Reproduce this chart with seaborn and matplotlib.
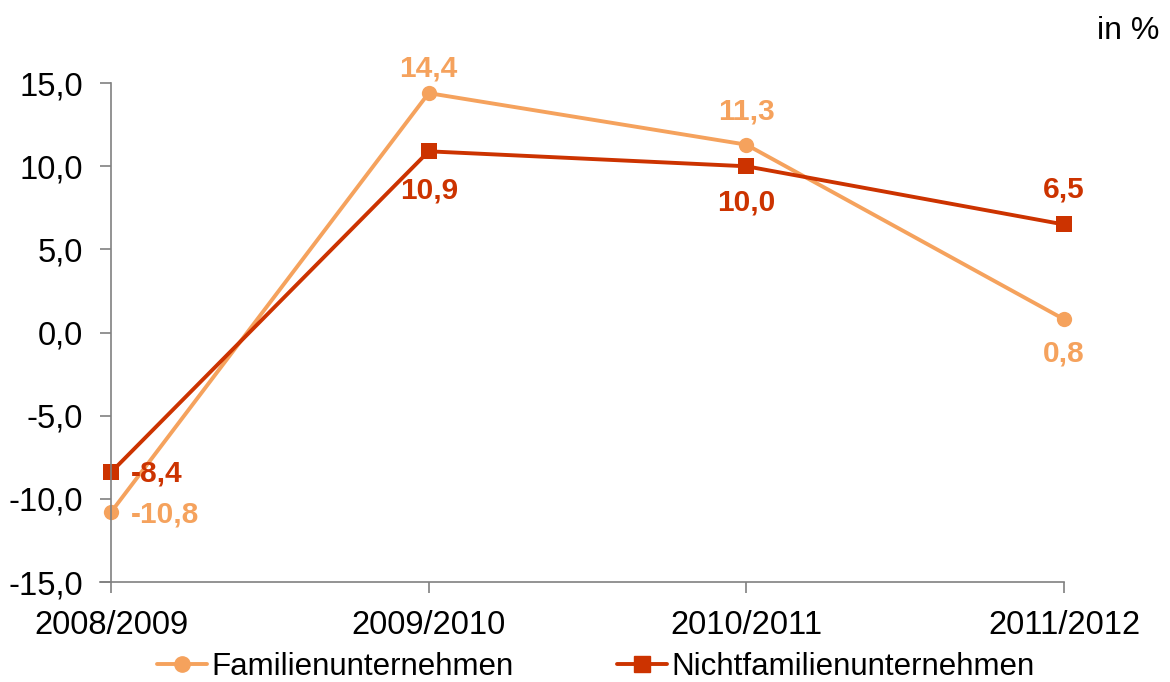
import pandas as pd
import matplotlib.pyplot as plt
import seaborn as sns

# values (in %)
years = ['2008/2009', '2009/2010', '2010/2011', '2011/2012']
familien = [-10.8, 14.4, 11.3, 0.8]
nichtfamilien = [-8.4, 10.9, 10.0, 6.5]
series_names = ['Familienunternehmen', 'Nichtfamilienunternehmen']
colors = ['#F5A25D', '#CC3300']

df = pd.DataFrame({
    'pos': list(range(len(years))) * 2,
    'value': familien + nichtfamilien,
    'series': [series_names[0]] * len(years) + [series_names[1]] * len(years),
})

sns.set_style('white')
plt.rcParams['font.family'] = ['Liberation Sans', 'DejaVu Sans']
plt.rcParams['text.color'] = 'black'

fig = plt.figure(figsize=(11.7, 6.82), dpi=100)
ax = fig.add_axes([0.0949, 0.1466, 0.8145, 0.7315])

sns.lineplot(data=df, x='pos', y='value', hue='series', style='series',
             palette=colors, markers={series_names[0]: 'o', series_names[1]: 's'},
             dashes=False, linewidth=2.8, markersize=11, markeredgewidth=0,
             ax=ax, legend=False, clip_on=False)

ax.set_xlim(0, 3)
ax.set_ylim(-15, 15)
ax.set_xticks(range(len(years)))
ax.set_xticklabels(years)
ax.set_yticks(range(-15, 16, 5))
ax.set_yticklabels([f'{v:.1f}'.replace('.', ',') for v in range(-15, 16, 5)])
ax.set_xlabel('')
ax.set_ylabel('')
ax.tick_params(axis='both', labelsize=23.5, length=8, width=1.2, color='#808080',
               labelcolor='black', direction='out', bottom=True, left=True)
ax.tick_params(axis='x', pad=12)
ax.tick_params(axis='y', pad=12)
for side in ['top', 'right']:
    ax.spines[side].set_visible(False)
for side in ['left', 'bottom']:
    ax.spines[side].set_color('#808080')
    ax.spines[side].set_linewidth(1.2)
ax.spines['bottom'].set_bounds(-0.035, 3)

# data labels: (dx points, dy points, ha)
fam_off = [(14, -2, 'left'), (0, 18, 'center'), (0, 24, 'center'), (0, -25, 'center')]
nf_off = [(14, -1, 'left'), (0, -28, 'center'), (0, -26, 'center'), (0, 25, 'center')]
for vals, offs, c in [(familien, fam_off, colors[0]), (nichtfamilien, nf_off, colors[1])]:
    for i, (v, (dx, dy, ha)) in enumerate(zip(vals, offs)):
        ax.annotate(f'{v:.1f}'.replace('.', ','), (i, v), xytext=(dx, dy),
                    textcoords='offset points', ha=ha, va='center',
                    fontsize=21.5, fontweight='bold', color=c)

fig.text(0.991, 0.955, 'in %', fontsize=23, ha='right', va='center')

handles = [plt.Line2D([], [], color=colors[0], marker='o', lw=2.8, markersize=11),
           plt.Line2D([], [], color=colors[1], marker='s', lw=2.8, markersize=11)]
fig.legend(handles, series_names, loc='center', bbox_to_anchor=(0.509, 0.022),
           ncol=2, frameon=False, fontsize=22.5, handlelength=1.6,
           columnspacing=3.3, handletextpad=0.15)

fig.savefig('out.png', dpi=100)
